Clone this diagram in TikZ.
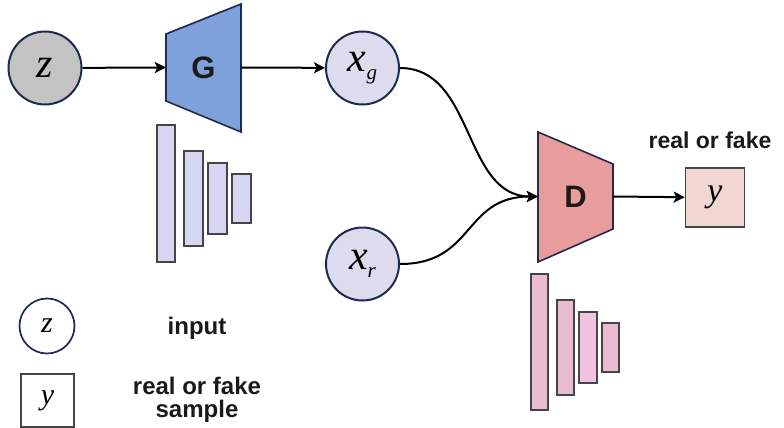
\documentclass[tikz,border=0pt]{standalone}
\usepackage{fontspec}
\setmainfont{Liberation Sans}
\newfontfamily\varfont{Liberation Serif}
\usetikzlibrary{arrows.meta}

\definecolor{lineNavy}{HTML}{1E2A50}
\definecolor{textDark}{HTML}{1A1A1A}
\definecolor{barGray}{HTML}{454545}
\definecolor{noiseGray}{HTML}{C3C3C3}
\definecolor{sampleLav}{HTML}{DCDCEE}
\definecolor{genBlue}{HTML}{7EA1DC}
\definecolor{genBar}{HTML}{D6D6F2}
\definecolor{disRed}{HTML}{E99C9C}
\definecolor{disBar}{HTML}{EBBBD0}
\definecolor{disBarLight}{HTML}{F0C3DE}
\definecolor{outPink}{HTML}{F2D6D2}

\newcommand{\var}[1]{{\varfont\itshape #1}}
\newcommand{\varsub}[2]{\var{#1}\raisebox{-8pt}{\fontsize{21}{21}\selectfont\var{#2}}}

\begin{document}
\begin{tikzpicture}[
    x=1pt,
    y=-1pt,
    var/.style={%
      draw=lineNavy,
      circle,
      line width=2pt,
      minimum size=73pt,
      inner sep=0pt,
      font=\fontsize{42}{42}\selectfont,
    },
    net/.style={%
      rectangle,
      inner sep=0pt,
      minimum width=75pt,
      font=\fontsize{31}{31}\selectfont\bfseries,
      text=textDark,
    },
    trapez/.style={%
      draw=lineNavy,
      line width=1.6pt,
    },
    layer/.style={%
      draw=barGray,
      line width=1.6pt,
    },
    arr/.style={%
      -{Stealth[length=11pt,width=11pt,inset=2.5pt]},
      line width=2pt,
    },
    legend/.style={%
      font=\fontsize{24}{23}\selectfont\bfseries,
      text=textDark,
      align=center,
      anchor=base,
    },
  ]

    \useasboundingbox (0,0) rectangle (784,428);

    % generator
    \draw [trapez,fill=genBlue] (166,34) -- (241,4) -- (241,132) -- (166,101) -- cycle;
    \node [net,minimum height=67pt] (G) at (203.5,67.5) {G};
    \draw [layer,fill=genBar] (157,125) rectangle (175,262);
    \draw [layer,fill=genBar] (184,151) rectangle (203,246);
    \draw [layer,fill=genBar] (208,163) rectangle (227,234);
    \draw [layer,fill=genBar] (232,174) rectangle (251,223);

    % discriminator
    \draw [trapez,fill=disRed] (538,132) -- (613,164) -- (613,229) -- (538,262) -- cycle;
    \node [net,minimum height=65pt] (D) at (575.5,196.5) {D};
    \draw [layer,fill=disBar] (531,274) rectangle (548,410);
    \draw [layer,fill=disBar] (557,300) rectangle (574,395);
    \draw [layer,fill=disBarLight] (579,312) rectangle (597,383);
    \draw [layer,fill=disBar] (602,323) rectangle (619,372);

    % variables
    \node [var,fill=noiseGray] (z) at (45,68) {\var{z}};
    \node [var,fill=sampleLav] (xg) at (362.5,68) {\varsub{x}{g}};
    \node [var,fill=sampleLav] (xr) at (362.5,264) {\varsub{x}{r}};
    \node [draw=barGray,fill=outPink,line width=1.6pt,minimum size=59pt,inner sep=0pt,
      font=\fontsize{34}{34}\selectfont] (y) at (715,197.5) {\var{y}};
    \node [net,font=\fontsize{23}{23}\selectfont\bfseries] (yLabel) at (710,140) {real or fake};

    \draw [arr] (z) -- (G.west);
    \draw [arr] (G.east) -- (xg);
    \draw [arr] (xg.east) .. controls +(75,0) and +(-75,0) .. (D.west);
    \draw [arr] (xr.east) .. controls +(75,0) and +(-75,0) .. (D.west);
    \draw [arr] (D.east) -- (y);

    % legend
    \node [var,line width=1.7pt,minimum size=55pt,font=\fontsize{30}{30}\selectfont] (zKey) at (47,326) {\var{z}};
    \node [draw=barGray,line width=1.6pt,minimum size=53pt,inner sep=0pt,
      font=\fontsize{30}{30}\selectfont] (yKey) at (47.5,400.5) {\var{y}};
    \node [legend] (zText) at (197,334) {input};
    \node [legend] (yText) at (197,417) {real or fake\\sample};

\end{tikzpicture}
\end{document}
